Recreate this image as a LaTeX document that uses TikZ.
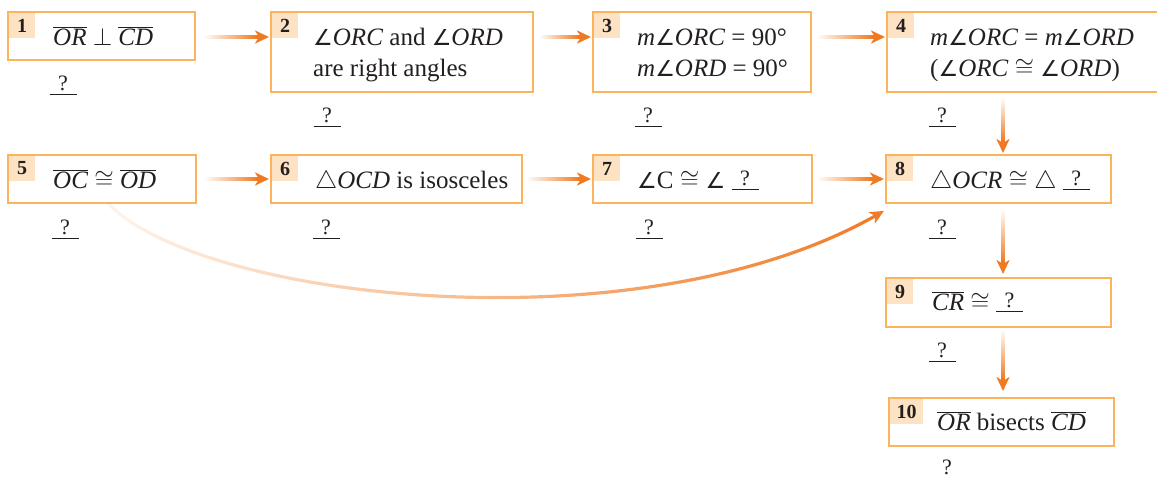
\RequirePackage{fix-cm}
\documentclass[tikz,border=0pt]{standalone}
\usepackage{fontspec}
\setmainfont{Liberation Serif}
\newfontfamily\symf{DejaVu Sans}
\usetikzlibrary{arrows.meta,calc,fadings}
\definecolor{boxc}{HTML}{FBB35C}
\definecolor{tabc}{HTML}{FDE3C3}
\definecolor{arrc}{HTML}{F07A22}
\definecolor{txtc}{HTML}{231F20}
\newcommand\blnk{\leavevmode\rlap{\rule[-2pt]{27pt}{1.3pt}}\hbox to 27pt{\hss\raisebox{2.5pt}{\fontsize{22}{22}\selectfont ?}\hss}}
\newcommand\ov[1]{$\overline{\mbox{\itshape #1\/}}$}
\newcommand\It[1]{{\itshape #1\/}}
\newcommand\Ang{{\symf\fontsize{22}{22}\selectfont ∠}}
\newcommand\Cong{$\cong$}
\newcommand\Perp{$\perp$}
\newcommand\Tri{$\triangle$}
\tikzfading[name=curvefade, left color=transparent!92, middle color=transparent!30, right color=transparent!0]
\tikzset{
 box/.style={draw=boxc, line width=2pt, fill=white, anchor=north west, inner sep=0pt, outer sep=0pt},
 tab/.style={fill=tabc, anchor=north west, inner sep=0pt, outer sep=0pt, minimum width=26pt, minimum height=25pt, font=\fontsize{20}{20}\selectfont\bfseries, text=txtc},
 txt/.style={anchor=base west, inner sep=0pt, font=\fontsize{25}{30}\selectfont, text=txtc},
 qq/.style={anchor=base, inner sep=0pt, font=\fontsize{25}{30}\selectfont, text=txtc},
 tipline/.style={arrc, line width=3.2pt, -{Stealth[length=14pt,width=13pt,inset=4pt]}},
}
\newcommand\harr[2]{%
  \shade[left color=white, right color=arrc] ($(#1)+(0,-1.6)$) rectangle ($(#2)+(-12,1.6)$);
  \draw[tipline] ($(#2)+(-13,0)$) -- (#2);}
\newcommand\varr[2]{%
  \shade[top color=white, bottom color=arrc] ($(#1)+(-1.6,0)$) rectangle ($(#2)+(1.6,-12)$);
  \draw[tipline] ($(#2)+(0,-13)$) -- (#2);}
\begin{document}
\begin{tikzpicture}[x=1pt,y=-1pt]
\useasboundingbox (0,0) rectangle (1157,477);
\clip (0,0) rectangle (1157,477);
% boxes
\node[box, minimum width=187pt, minimum height=48pt] (b1) at (8,12) {};
\node[box, minimum width=262pt, minimum height=80pt] (b2) at (271,12) {};
\node[box, minimum width=218pt, minimum height=80pt] (b3) at (593,12) {};
\node[box, minimum width=280pt, minimum height=80pt] (b4) at (887,12) {};
\node[box, minimum width=188pt, minimum height=48pt] (b5) at (8,155) {};
\node[box, minimum width=251pt, minimum height=48pt] (b6) at (271,155) {};
\node[box, minimum width=219pt, minimum height=48pt] (b7) at (593,155) {};
\node[box, minimum width=225pt, minimum height=48pt] (b8) at (886,155) {};
\node[box, minimum width=225pt, minimum height=49pt] (b9) at (886,278) {};
\node[box, minimum width=225pt, minimum height=48pt] (b10) at (889,398) {};
% tabs
\node[tab] (n1) at ($(b1.north west)+(1,1)$) {1};
\node[tab] (n2) at ($(b2.north west)+(1,1)$) {2};
\node[tab] (n3) at ($(b3.north west)+(1,1)$) {3};
\node[tab] (n4) at ($(b4.north west)+(1,1)$) {4};
\node[tab] (n5) at ($(b5.north west)+(1,1)$) {5};
\node[tab] (n6) at ($(b6.north west)+(1,1)$) {6};
\node[tab] (n7) at ($(b7.north west)+(1,1)$) {7};
\node[tab] (n8) at ($(b8.north west)+(1,1)$) {8};
\node[tab] (n9) at ($(b9.north west)+(1,1)$) {9};
\node[tab, minimum width=33pt] (n10) at ($(b10.north west)+(1,1)$) {10};
% texts
\node[txt] (t1) at (53,45) {\ov{OR} \Perp{} \ov{CD}};
\node[txt] (t2a) at (313,45) {\Ang\It{ORC} and \Ang\It{ORD}};
\node[txt] (t2b) at (313,76) {are right angles};
\node[txt] (t3a) at (637,45) {\It{m}\Ang\It{ORC} = 90°};
\node[txt] (t3b) at (637,76) {\It{m}\Ang\It{ORD} = 90°};
\node[txt] (t4a) at (930,45) {\It{m}\Ang\It{ORC} = \It{m}\Ang\It{ORD}};
\node[txt] (t4b) at (930,76) {(\Ang\It{ORC} \Cong{} \Ang\It{ORD})};
\node[txt] (t5) at (53,188) {\ov{OC} \Cong{} \ov{OD}};
\node[txt] (t6) at (315,188) {\Tri\It{OCD} is isosceles};
\node[txt] (t7) at (637,188) {\Ang C \Cong{} \Ang{} \blnk};
\node[txt] (t8) at (930,188) {\Tri\It{OCR} \Cong{} \Tri{} \blnk};
\node[txt] (t9) at (932,310) {\ov{CR} \Cong{} \blnk};
\node[txt] (t10) at (937,430) {\ov{OR} bisects \ov{CD}};
% reasons
\node[qq] (q1) at (63,93) {\blnk};
\node[qq] (q2) at (327,125) {\blnk};
\node[qq] (q3) at (648,125) {\blnk};
\node[qq] (q4) at (942,125) {\blnk};
\node[qq] (q5) at (65,237) {\blnk};
\node[qq] (q6) at (326,237) {\blnk};
\node[qq] (q7) at (649,237) {\blnk};
\node[qq] (q8) at (942,237) {\blnk};
\node[qq] (q9) at (942,360) {\blnk};
\node[qq, font=\fontsize{22}{22}\selectfont] (q10) at (947,474) {?};
% arrow end points
\coordinate (a12s) at ($(b1.north east)+(8,25)$);
\coordinate (a12e) at ($(b2.north west)+(-2,25)$);
\coordinate (a23s) at ($(b2.north east)+(6,25)$);
\coordinate (a23e) at ($(b3.north west)+(-2,25)$);
\coordinate (a34s) at ($(b3.north east)+(5,25)$);
\coordinate (a34e) at ($(b4.north west)+(-2,25)$);
\coordinate (a56s) at ($(b5.east)+(8,0)$);
\coordinate (a56e) at ($(b6.west)+(-2,0)$);
\coordinate (a67s) at ($(b6.east)+(4,0)$);
\coordinate (a67e) at ($(b7.west)+(-2,0)$);
\coordinate (a78s) at ($(b7.east)+(5,0)$);
\coordinate (a78e) at ($(b8.west)+(-2,0)$);
\coordinate (a48s) at ($(b4.south west)+(116,5)$);
\coordinate (a48e) at ($(b8.north)+(4.5,-2)$);
\coordinate (a89s) at ($(b8.south)+(4.5,6)$);
\coordinate (a89e) at ($(b9.north)+(4.5,-4)$);
\coordinate (a910s) at ($(b9.south)+(4.5,2)$);
\coordinate (a910e) at ($(b10.north)+(1.5,-7)$);
\harr{a12s}{a12e}
\harr{a23s}{a23e}
\harr{a34s}{a34e}
\harr{a56s}{a56e}
\harr{a67s}{a67e}
\harr{a78s}{a78e}
\varr{a48s}{a48e}
\varr{a89s}{a89e}
\varr{a910s}{a910e}
% curved arrow 5 -> 8
\coordinate (cs) at ($(b5.south west)+(100,0)$);
\coordinate (ce) at ($(b8.south west)+(-1,8)$);
\draw[arrc, line width=3.2pt, path fading=curvefade, -{Stealth[length=14pt,width=13pt,inset=4pt]}]
  (cs) .. controls (200,300) and (640,350) .. (ce);
\end{tikzpicture}
\end{document}
